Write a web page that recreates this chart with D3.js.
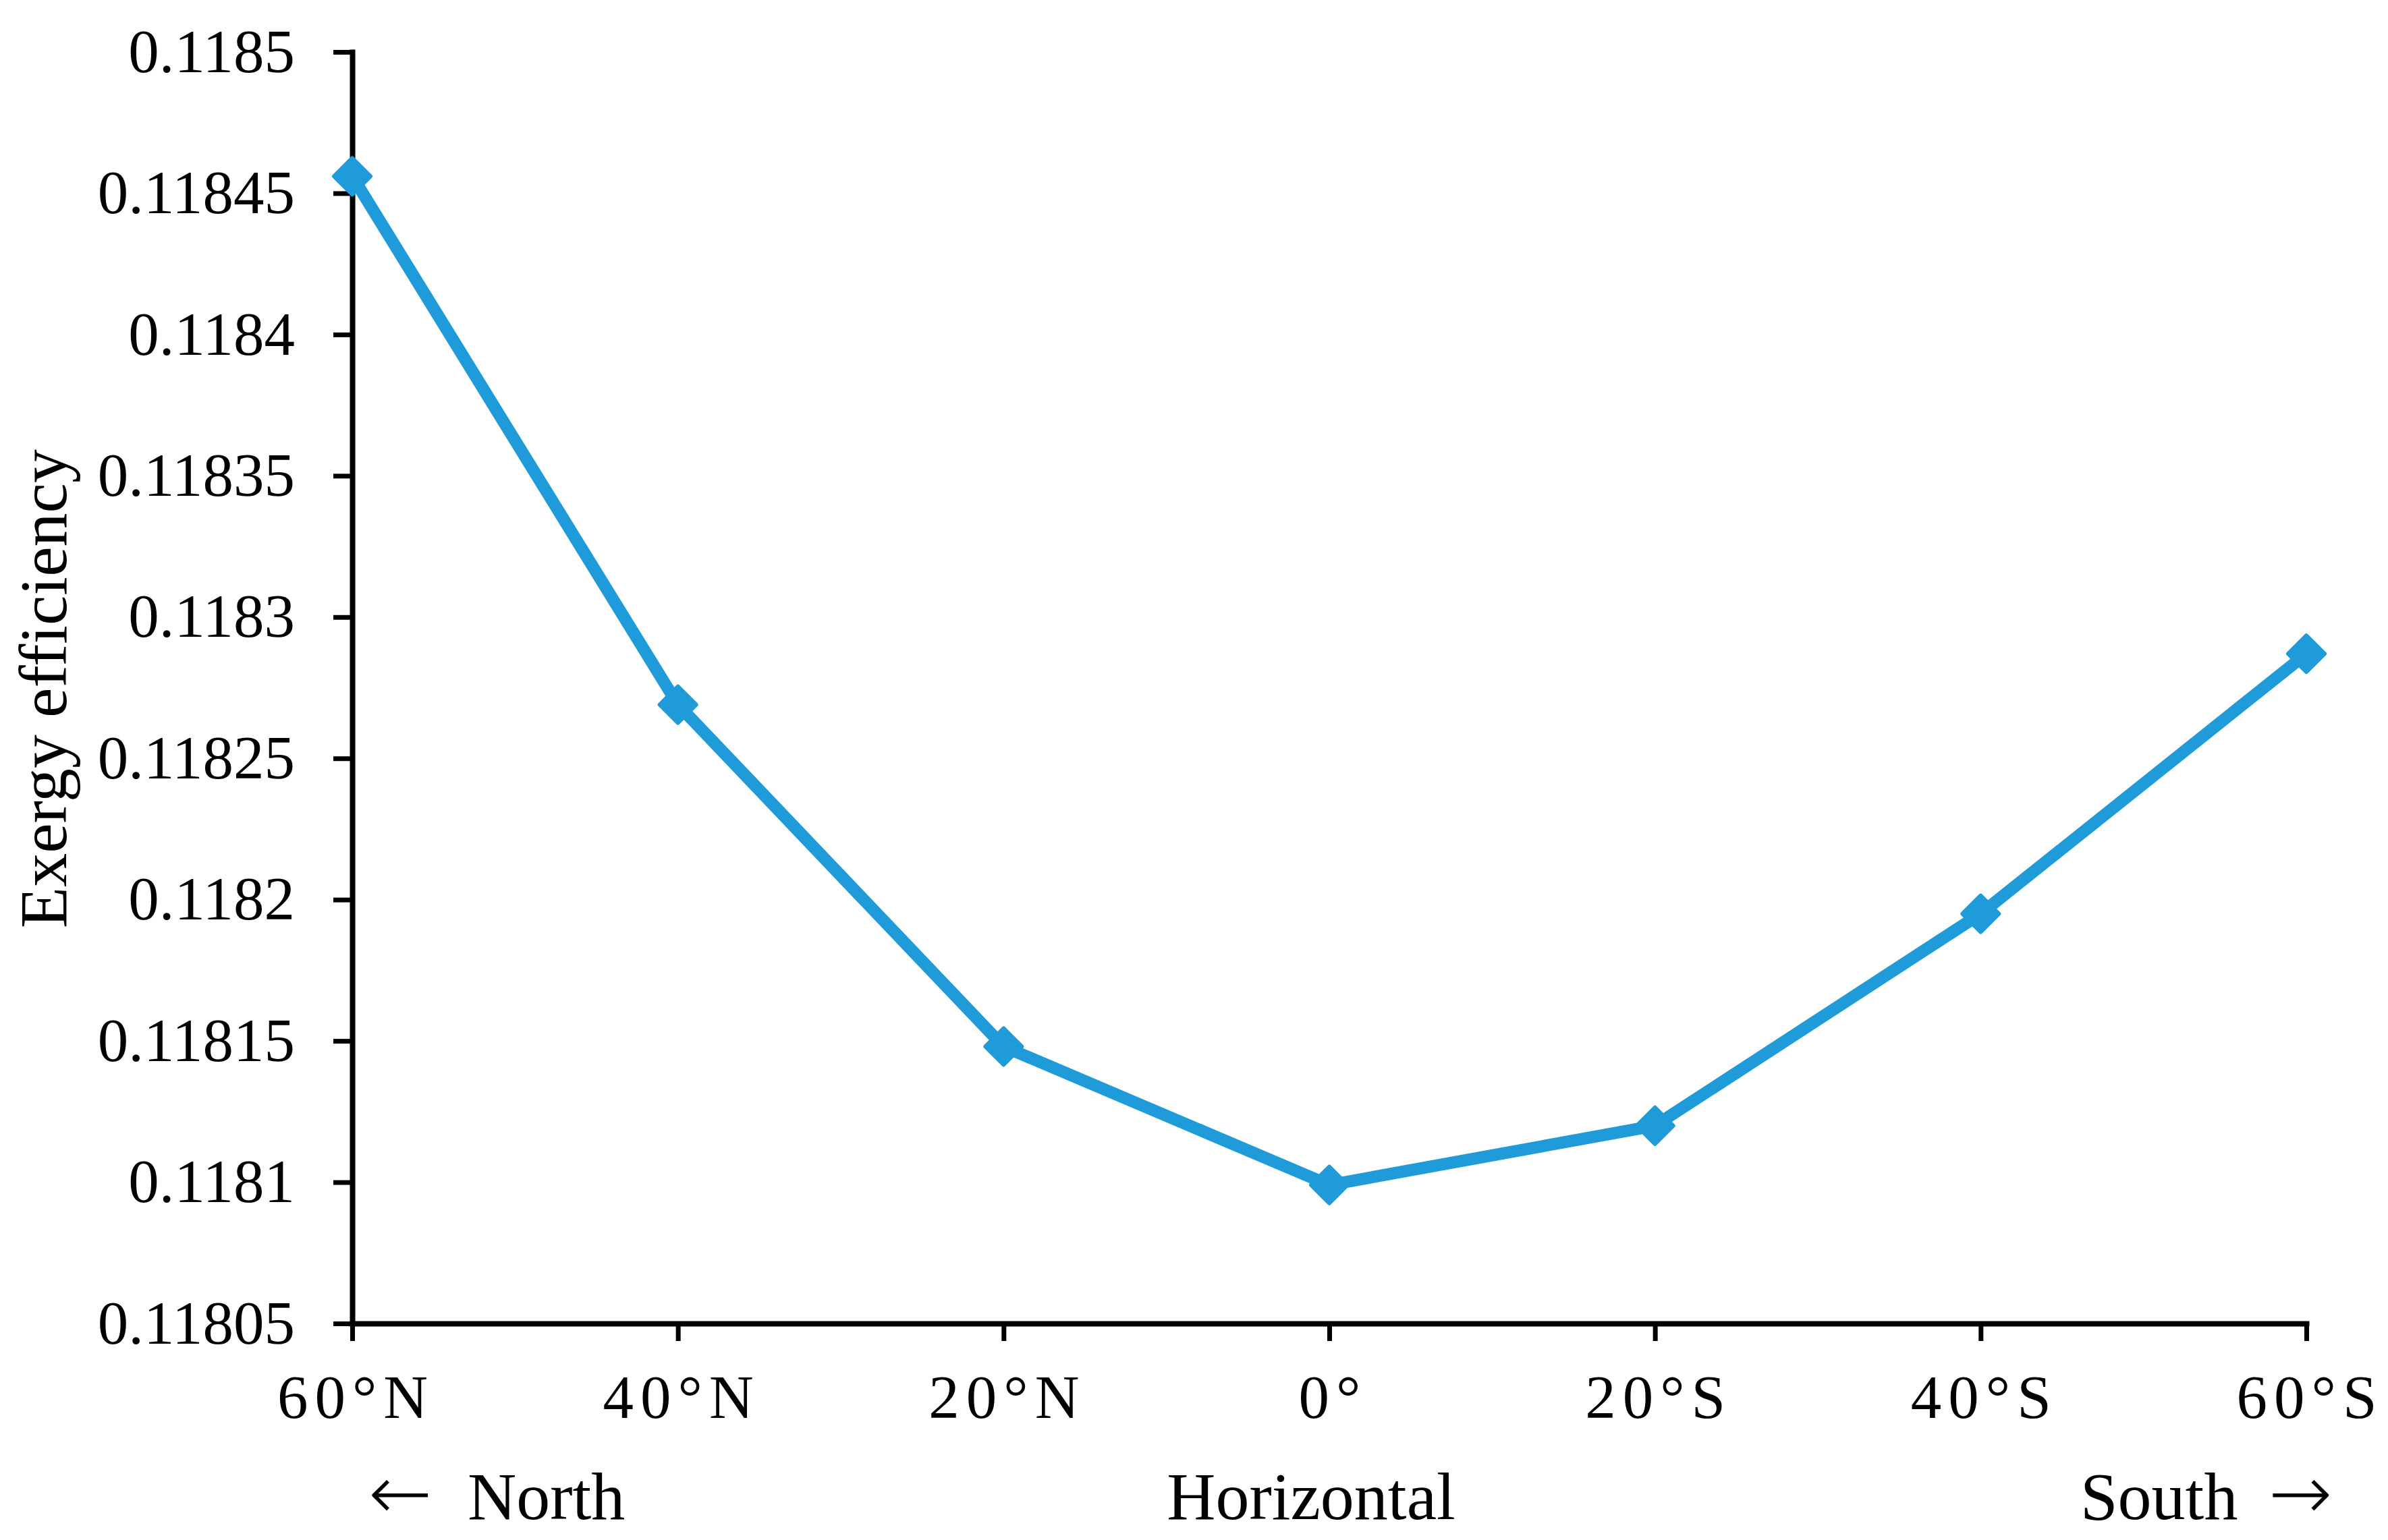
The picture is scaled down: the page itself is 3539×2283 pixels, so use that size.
<!DOCTYPE html>
<html>
<head>
<meta charset="utf-8">
<script src="https://cdn.jsdelivr.net/npm/d3@7"></script>
<style>
  html, body { margin: 0; padding: 0; background: #ffffff; }
  svg { display: block; }
  text { font-family: "Liberation Serif", "Times New Roman", serif; fill: #000; }
</style>
</head>
<body>
<svg id="chart" width="3539" height="2283"></svg>
<script>
// ---- data ----
const categories = ["60°N", "40°N", "20°N", "0°", "20°S", "40°S", "60°S"];
const efficiency = [0.118456, 0.118269, 0.118148, 0.118099, 0.11812, 0.118195, 0.118287];
const yTicks = [0.11805, 0.1181, 0.11815, 0.1182, 0.11825, 0.1183, 0.11835, 0.1184, 0.11845, 0.1185];
const yTickLabels = ["0.11805", "0.1181", "0.11815", "0.1182", "0.11825", "0.1183", "0.11835", "0.1184", "0.11845", "0.1185"];
const directionWords = ["North", "Horizontal", "South"];
const yTitle = "Exergy efficiency";

// ---- layout ----
const W = 3539, H = 2283;
const plot = { left: 522, right: 3418, top: 77, bottom: 1962 };
const color = "#1e9bd8";
const serif = "Liberation Serif, Times New Roman, serif";
const arrowFont = "DejaVu Sans, sans-serif";

const svg = d3.select("#chart");
svg.append("rect").attr("width", W).attr("height", H).attr("fill", "#fff");

const x = d3.scalePoint().domain(categories).range([plot.left, plot.right]);
const y = d3.scaleLinear().domain([0.11805, 0.1185]).range([plot.bottom, plot.top]);

// y axis
const yAxis = d3.axisLeft(y)
  .tickValues(yTicks)
  .tickFormat((d, i) => yTickLabels[i])
  .tickSize(28)
  .tickPadding(57)
  .tickSizeOuter(0);
const gy = svg.append("g").attr("transform", `translate(${plot.left},0)`).call(yAxis);
gy.select(".domain").attr("stroke", "#000").attr("stroke-width", 8).attr("stroke-linecap", "square");
gy.selectAll(".tick line").attr("stroke", "#000").attr("stroke-width", 7);
gy.selectAll(".tick text")
  .attr("font-family", serif)
  .attr("font-size", 91)
  .attr("fill", "#000");

// x axis
const xAxis = d3.axisBottom(x).tickSize(26).tickPadding(0).tickSizeOuter(0);
const gx = svg.append("g").attr("transform", `translate(0,${plot.bottom})`).call(xAxis);
gx.select(".domain").attr("stroke", "#000").attr("stroke-width", 8).attr("stroke-linecap", "square");
gx.selectAll(".tick line").attr("stroke", "#000").attr("stroke-width", 7);
gx.selectAll(".tick text")
  .attr("font-family", serif)
  .attr("font-size", 91)
  .attr("fill", "#000")
  .attr("letter-spacing", 10)
  .attr("dx", 5)
  .attr("y", 140)
  .attr("dy", 0);

// direction labels beneath the x axis
const dirY = 2252;
// North (left)
const tN = svg.append("text").attr("y", dirY).attr("font-size", 100).attr("font-family", serif);
tN.append("tspan").attr("x", 546).attr("font-family", arrowFont).attr("font-weight", 200).attr("font-size", 113).text("←");
tN.append("tspan").attr("x", 693).attr("font-size", 100).text(directionWords[0]);
// Horizontal (center)
svg.append("text").attr("x", x("0°") - 27).attr("y", dirY).attr("text-anchor", "middle")
  .attr("font-size", 100).attr("font-family", serif).text(directionWords[1]);
// South (right)
const tS = svg.append("text").attr("y", dirY).attr("font-size", 100).attr("font-family", serif);
tS.append("tspan").attr("x", 3083).text(directionWords[2]);
tS.append("tspan").attr("x", 3362).attr("font-family", arrowFont).attr("font-weight", 200).attr("font-size", 113).text("→");

// y title
svg.append("text")
  .attr("transform", `translate(98,1021) rotate(-90)`)
  .attr("text-anchor", "middle")
  .attr("font-size", 100)
  .attr("font-family", serif)
  .text(yTitle);

// series line
const pts = categories.map((c, i) => ({ c, v: efficiency[i] }));
svg.append("path")
  .datum(pts)
  .attr("fill", "none")
  .attr("stroke", color)
  .attr("stroke-width", 18)
  .attr("stroke-linejoin", "round")
  .attr("d", d3.line().x(d => x(d.c)).y(d => y(d.v)));

// diamond markers
const r = 27;
svg.selectAll("path.marker").data(pts).join("path")
  .attr("class", "marker")
  .attr("d", `M0,${-r}L${r},0L0,${r}L${-r},0Z`)
  .attr("transform", d => `translate(${x(d.c)},${y(d.v)})`)
  .attr("fill", color)
  .attr("stroke", color)
  .attr("stroke-width", 6)
  .attr("stroke-linejoin", "round");
</script>
</body>
</html>
